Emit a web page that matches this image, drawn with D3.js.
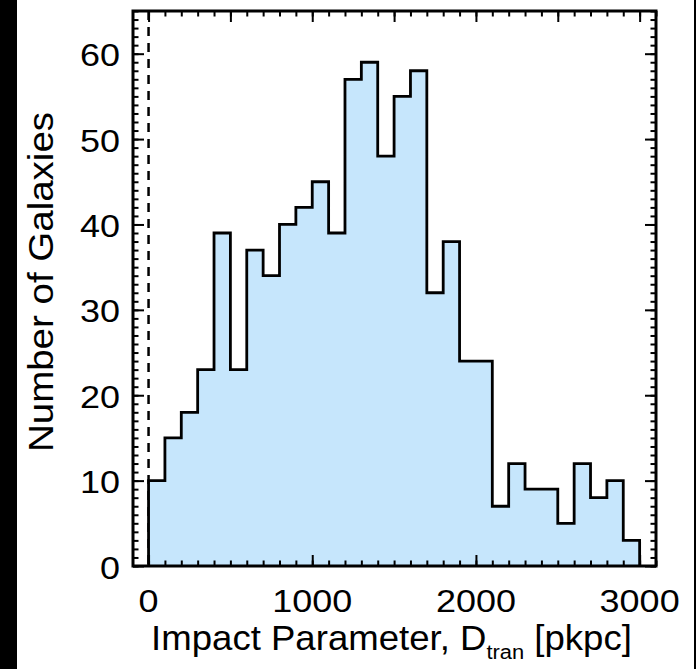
<!DOCTYPE html>
<html><head><meta charset="utf-8">
<script src="https://cdn.jsdelivr.net/npm/d3@7"></script>
<style>
html,body{margin:0;padding:0;background:#fff;}
svg{display:block;}
text{font-family:"Liberation Sans",Arial,Helvetica,sans-serif;fill:#000;}
</style>
</head><body>
<svg id="c" width="696" height="669"></svg>
<script>
// ---- data ----
const binEdges = [0,100,200,300,400,500,600,700,800,900,1000,1100,1200,1300,1400,1500,1600,1700,1800,1900,2000,2100,2200,2300,2400,2500,2600,2700,2800,2900,3000];
const counts   = [10,15,18,23,39,23,37,34,40,42,45,39,57,59,48,55,58,32,38,24,24,7,12,9,9,5,12,8,10,3];
const xTickLabels = [0,1000,2000,3000];
const yTickLabels = [0,10,20,30,40,50,60];
const xMarker = 0;
const xTitleMain = "Impact Parameter, D";
const xTitleSub = "tran";
const xTitleEnd = " [pkpc]";
const yTitle = "Number of Galaxies";

// ---- layout ----
const W = 696, H = 669;
const L = 133, R = 656, T = 11, B = 566;
const svg = d3.select("#c");

const x = d3.scaleLinear().domain([-95, 3100]).range([L, R]);
const y = d3.scaleLinear().domain([0, 65]).range([B, T]);

// side strips
svg.append("rect").attr("x",0).attr("y",0).attr("width",17).attr("height",H).attr("fill","#000");
svg.append("rect").attr("x",694).attr("y",0).attr("width",2).attr("height",H).attr("fill","#000");

// dashed marker
svg.append("line")
  .attr("x1", x(xMarker)).attr("x2", x(xMarker))
  .attr("y1", T).attr("y2", B)
  .attr("stroke","#000").attr("stroke-width",2.5).attr("stroke-dasharray","9,7");

// histogram
const pts = [[binEdges[0], 0]];
counts.forEach((c,i)=>{ pts.push([binEdges[i], c]); pts.push([binEdges[i+1], c]); });
pts.push([binEdges[binEdges.length-1], 0]);
const line = d3.line().x(d=>x(d[0])).y(d=>y(d[1]));
svg.append("path").attr("d", line(pts) + "Z").attr("fill","#c6e6fc").attr("stroke","none");
svg.append("path").attr("d", line(pts)).attr("fill","none").attr("stroke","#000")
  .attr("stroke-width",2.8).attr("stroke-linejoin","miter");

// ticks
const xMinor = d3.range(0, 3101, 100);
const yMinor = d3.range(0, 66, 1);
function ticks(g, axis) { g.call(axis); g.select(".domain").remove(); g.selectAll("line").attr("stroke","#000").attr("stroke-width",2); }
const minorLen = 5.5, majorLen = 11;
ticks(svg.append("g").attr("transform",`translate(0,${B})`),
  d3.axisBottom(x).tickValues(xMinor).tickSize(-minorLen).tickFormat(""));
ticks(svg.append("g").attr("transform",`translate(0,${B})`),
  d3.axisBottom(x).tickValues(xTickLabels).tickSize(-majorLen).tickFormat(""));
ticks(svg.append("g").attr("transform",`translate(0,${T})`),
  d3.axisTop(x).tickValues(xMinor).tickSize(-minorLen).tickFormat(""));
ticks(svg.append("g").attr("transform",`translate(0,${T})`),
  d3.axisTop(x).tickValues(d3.range(0, 3001, 500)).tickSize(-majorLen).tickFormat(""));
ticks(svg.append("g").attr("transform",`translate(${L},0)`),
  d3.axisLeft(y).tickValues(yMinor).tickSize(-minorLen).tickFormat(""));
ticks(svg.append("g").attr("transform",`translate(${L},0)`),
  d3.axisLeft(y).tickValues(yTickLabels).tickSize(-majorLen).tickFormat(""));
ticks(svg.append("g").attr("transform",`translate(${R},0)`),
  d3.axisRight(y).tickValues(yMinor).tickSize(-minorLen).tickFormat(""));
ticks(svg.append("g").attr("transform",`translate(${R},0)`),
  d3.axisRight(y).tickValues(yTickLabels).tickSize(-majorLen).tickFormat(""));

// frame
svg.append("rect").attr("x",L).attr("y",T).attr("width",R-L).attr("height",B-T)
  .attr("fill","none").attr("stroke","#000").attr("stroke-width",3);

// tick labels
const tickFont = 30.5, tickStretch = 1.18;
svg.append("g").selectAll("text").data(xTickLabels).join("text")
  .attr("transform", d=>`translate(${x(d)},612) scale(${tickStretch},1)`)
  .attr("text-anchor","middle").attr("font-size", tickFont).text(d=>d);
svg.append("g").selectAll("text").data(yTickLabels).join("text")
  .attr("transform", d=>`translate(120,${y(d)+12.5}) scale(${tickStretch},1)`)
  .attr("text-anchor","end").attr("font-size", tickFont).text(d=>d);

// titles
const titleFont = 35;
const xt = svg.append("text")
  .attr("transform",`translate(${(L+R)/2 - 3},650) scale(1.045,1)`)
  .attr("text-anchor","middle").attr("font-size",titleFont);
xt.append("tspan").text(xTitleMain);
xt.append("tspan").attr("font-size",21).attr("dy",9).text(xTitleSub);
xt.append("tspan").attr("dy",-9).text(xTitleEnd);

svg.append("text").attr("transform",`translate(53,282) rotate(-90) scale(1.1,1)`)
  .attr("text-anchor","middle").attr("font-size",titleFont).text(yTitle);
</script>
</body></html>
